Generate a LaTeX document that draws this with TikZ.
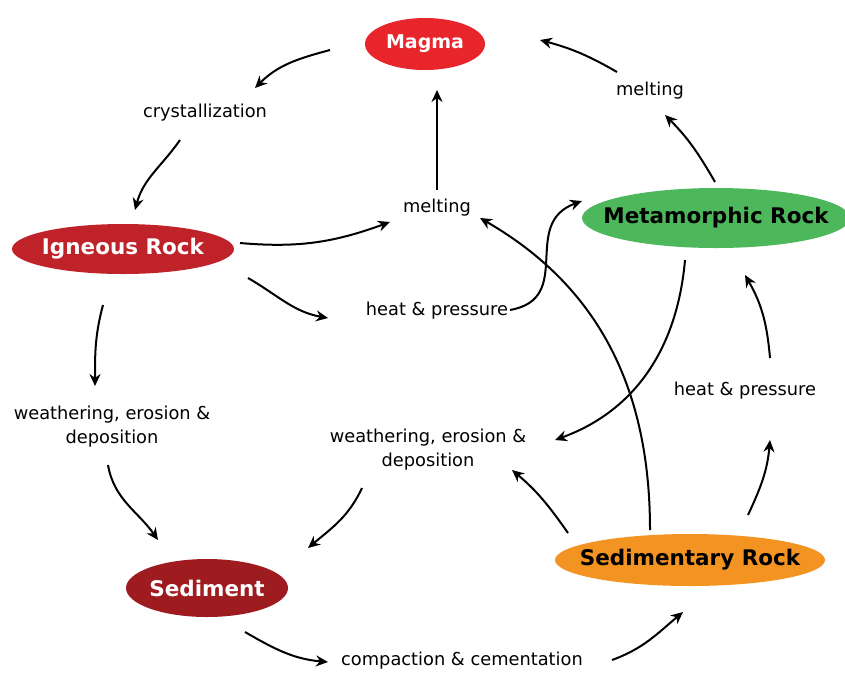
\documentclass[tikz,border=0pt]{standalone}
\usepackage{fontspec}
\setmainfont{DejaVu Sans}
\usepackage{tikz}
\usetikzlibrary{shapes.geometric,arrows.meta,positioning}

\definecolor{magmared}{HTML}{E8252A}
\definecolor{igneousred}{HTML}{C0222A}
\definecolor{sedimentred}{HTML}{9E1B1F}
\definecolor{metagreen}{HTML}{4DB85B}
\definecolor{sedorange}{HTML}{F39322}

\begin{document}
\begin{tikzpicture}[x=1pt, y=1pt,
                rock/.style={ellipse, inner xsep=-30pt, inner ysep=0pt, font=\fontsize{21.5}{24}\selectfont\bfseries},
                proc/.style={inner sep=0pt, align=center, font=\fontsize{17.8}{24}\selectfont},
                flow/.style={-{Stealth[length=12pt,width=11pt]}, line width=2pt}]
                \useasboundingbox (0,0) rectangle (845,-673);

                \node[rock, fill=magmared, text=white, minimum width=120, minimum height=52, font=\fontsize{19}{24}\selectfont\bfseries] (magma) at (425,-44)  {Magma};
                \node[rock, fill=igneousred, text=white, minimum width=222, minimum height=50]    (ign)   at (123,-249) {Igneous Rock};
                \node[rock, fill=metagreen, minimum width=268, minimum height=60]                 (meta)  at (716,-218) {Metamorphic Rock};
                \node[rock, fill=sedorange, minimum width=270, minimum height=52]                 (sedr)  at (690,-560) {Sedimentary Rock};
                \node[rock, fill=sedimentred, text=white, minimum width=162, minimum height=58]   (sed)   at (207,-588) {Sediment};

                \node[proc] (crys)   at (205,-113) {crystallization};
                \node[proc] (meltc)  at (437,-208) {melting};
                \node[proc] (meltr)  at (650,-91)  {melting};
                \node[proc] (heatc)  at (437,-311) {heat \& pressure};
                \node[proc] (heatr)  at (745,-391) {heat \& pressure};
                \node[proc] (weathl) at (112,-427) {weathering, erosion \&\\deposition};
                \node[proc] (weathm) at (428,-450) {weathering, erosion \&\\deposition};
                \node[proc] (compact) at (462,-661) {compaction \& cementation};

                \draw[flow] ([shift={(-95,-6)}]magma.center)  to[out=195, in=45]  ([shift={(50,25)}]crys.center);
                \draw[flow] ([shift={(-25,-27)}]crys.center)  to[out=235, in=75]  ([shift={(12,39)}]ign.center);
                \draw[flow] ([shift={(117,6)}]ign.center)     to[out=-5, in=200]  ([shift={(-47,-14)}]meltc.center);
                \draw[flow] ([shift={(125,-29)}]ign.center)   to[out=-30, in=170] ([shift={(-109,-7)}]heatc.center);
                \draw[flow] ([shift={(73,1)}]heatc.center)    to[out=10, in=200, looseness=1.3] ([shift={(-134,17)}]meta.center);
                \draw[flow] ([shift={(0,18)}]meltc.center)    -- ([shift={(12,-46)}]magma.center);
                \draw[flow] ([shift={(-1,36)}]meta.center)    to[out=120, in=-45] ([shift={(15,-24)}]meltr.center);
                \draw[flow] ([shift={(-33,19)}]meltr.center)  to[out=150, in=-15] ([shift={(115,4)}]magma.center);
                \draw[flow] ([shift={(-31,-42)}]meta.center)  to[out=265, in=20]  ([shift={(127,10)}]weathm.center);
                \draw[flow] ([shift={(-40,30)}]sedr.center)   to[out=90, in=-30]  ([shift={(43,-10)}]meltc.center);
                \draw[flow] ([shift={(-122,27)}]sedr.center)  to[out=125, in=-40] ([shift={(84,-20)}]weathm.center);
                \draw[flow] ([shift={(58,45)}]sedr.center)    to[out=65, in=-95]  ([shift={(25,-49)}]heatr.center);
                \draw[flow] ([shift={(25,33)}]heatr.center)   to[out=95, in=-60]  ([shift={(29,-57)}]meta.center);
                \draw[flow] ([shift={(-66,-38)}]weathm.center) to[out=245, in=40] ([shift={(101,40)}]sed.center);
                \draw[flow] ([shift={(-20,-56)}]ign.center)   to[out=255, in=90]  ([shift={(-17,41)}]weathl.center);
                \draw[flow] ([shift={(-4,-38)}]weathl.center) to[out=280, in=125] ([shift={(-49,48)}]sed.center);
                \draw[flow] ([shift={(38,-44)}]sed.center)    to[out=-30, in=175] ([shift={(-134,-1)}]compact.center);
                \draw[flow] ([shift={(150,1)}]compact.center) to[out=20, in=220]  ([shift={(-7,-52)}]sedr.center);
\end{tikzpicture}
\end{document}
